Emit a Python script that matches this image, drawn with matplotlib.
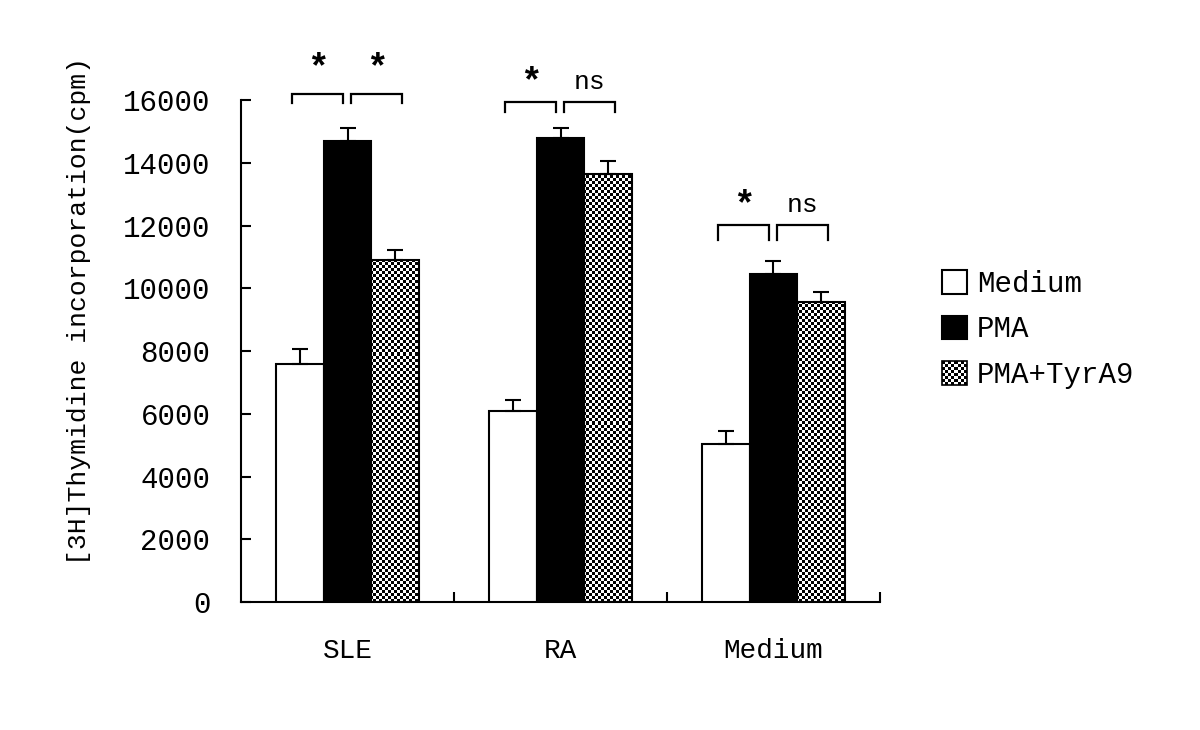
import numpy as np
import matplotlib
matplotlib.use("Agg")
import matplotlib.pyplot as plt
from matplotlib.patches import Rectangle
from matplotlib.legend_handler import HandlerBase
from matplotlib.image import BboxImage
from matplotlib.transforms import Bbox, TransformedBbox

FONT = "Liberation Mono"
plt.rcParams.update({
    "font.family": FONT,
    "axes.linewidth": 1.5,
})

groups = ["SLE", "RA", "Medium"]
series = ["Medium", "PMA", "PMA+TyrA9"]
medium_vals = [7600, 6100, 5030]
medium_err = [450, 330, 430]
pma_vals = [14700, 14780, 10450]
pma_err = [400, 340, 420]
tyr_vals = [10900, 13630, 9570]
tyr_err = [320, 430, 320]

# significance annotations (per group: left bracket / right bracket)
sig_left = ["*", "*", "*"]
sig_right = ["*", "ns", "ns"]
bracket_top = [16190, 15930, 12020]
bracket_leg = [290, 300, 470]
label_y = [16990, 16560, 12640]

YMAX = 16000
W = 0.225
x = np.arange(len(groups))


def checker(ny, nx):
    return (np.add.outer(np.arange(ny), np.arange(nx)) % 2).astype(float)


fig = plt.figure(figsize=(12, 7.3), dpi=100)
ax = fig.add_axes([241 / 1200, 128 / 730, 639 / 1200, 502 / 730])

ax.bar(x - W, medium_vals, W, color="white", edgecolor="black", linewidth=1.5, zorder=3)
ax.bar(x, pma_vals, W, color="black", edgecolor="black", linewidth=1.5, zorder=3)
tyr_bars = ax.bar(x + W, tyr_vals, W, facecolor="none", edgecolor="black", linewidth=1.5, zorder=3)

# checkered fill for PMA+TyrA9, clipped to each bar
tex = checker(167, 213)
for b in tyr_bars:
    im = ax.imshow(tex, cmap="gray", extent=(-0.5, 2.5, 0, YMAX), origin="lower",
                   aspect="auto", interpolation="nearest", zorder=2)
    im.set_clip_path(b)

for off, vals, err in [(-W, medium_vals, medium_err), (0, pma_vals, pma_err), (W, tyr_vals, tyr_err)]:
    ax.errorbar(x + off, vals, yerr=[np.zeros(len(err)), err], fmt="none", ecolor="black",
                elinewidth=1.5, capsize=6, capthick=1.5, zorder=4)

# brackets and significance labels
spans = [(-0.26, -0.022), (0.018, 0.255)]
for i in range(len(groups)):
    for (a, b), lab in zip(spans, [sig_left[i], sig_right[i]]):
        yt = bracket_top[i]
        yb = yt - bracket_leg[i]
        ax.plot([x[i] + a, x[i] + a, x[i] + b, x[i] + b], [yb, yt, yt, yb], color="black",
                lw=1.6, clip_on=False, solid_joinstyle="miter")
        if lab == "*":
            ax.text(x[i] + (a + b) / 2, label_y[i], lab, ha="center", va="center",
                    fontsize=26, fontweight="bold", clip_on=False)
        else:
            ax.text(x[i] + (a + b) / 2, label_y[i], lab, ha="center", va="center",
                    fontsize=19, clip_on=False)

ax.set_xlim(-0.5, 2.5)
ax.set_ylim(0, YMAX)
ax.spines["top"].set_visible(False)
ax.spines["right"].set_visible(False)

ax.set_yticks(np.arange(0, YMAX + 1, 2000))
ax.tick_params(axis="y", direction="in", length=7, width=1.5, labelsize=21, pad=22)
ax.set_xticks([0.5, 1.5, 2.5])
ax.set_xticklabels([])
ax.set_xticks(x, minor=True)
ax.set_xticklabels(groups, minor=True)
ax.tick_params(axis="x", which="major", direction="in", length=7, width=1.5)
ax.tick_params(axis="x", which="minor", length=0, labelsize=20, pad=26)

ax.set_ylabel("[3H]Thymidine incorporation(cpm)", fontsize=19)
ax.yaxis.set_label_coords(-0.235, 0.58)


class HandlerChecker(HandlerBase):
    def create_artists(self, legend, orig_handle, xdescent, ydescent, width, height, fontsize, trans):
        bb = TransformedBbox(Bbox.from_bounds(-xdescent, -ydescent, width, height), trans)
        im = BboxImage(bb, cmap="gray", interpolation="nearest")
        im.set_data(checker(8, 8))
        r = Rectangle((-xdescent, -ydescent), width, height, facecolor="none",
                      edgecolor="black", linewidth=1.2, transform=trans)
        return [im, r]


h_med = Rectangle((0, 0), 1, 1, facecolor="white", edgecolor="black", linewidth=1.5)
h_pma = Rectangle((0, 0), 1, 1, facecolor="black", edgecolor="black", linewidth=1.5)
h_tyr = Rectangle((0, 0), 1, 1)
fig.legend([h_med, h_pma, h_tyr], series, loc="upper left", bbox_to_anchor=(942 / 1200, 1 - 270 / 730),
           frameon=False, fontsize=21, handlelength=0.85, handleheight=0.85, handletextpad=0.35,
           labelspacing=0.6, borderpad=0, borderaxespad=0,
           handler_map={h_tyr: HandlerChecker()})

fig.savefig("out.png", dpi=100, facecolor="white")
